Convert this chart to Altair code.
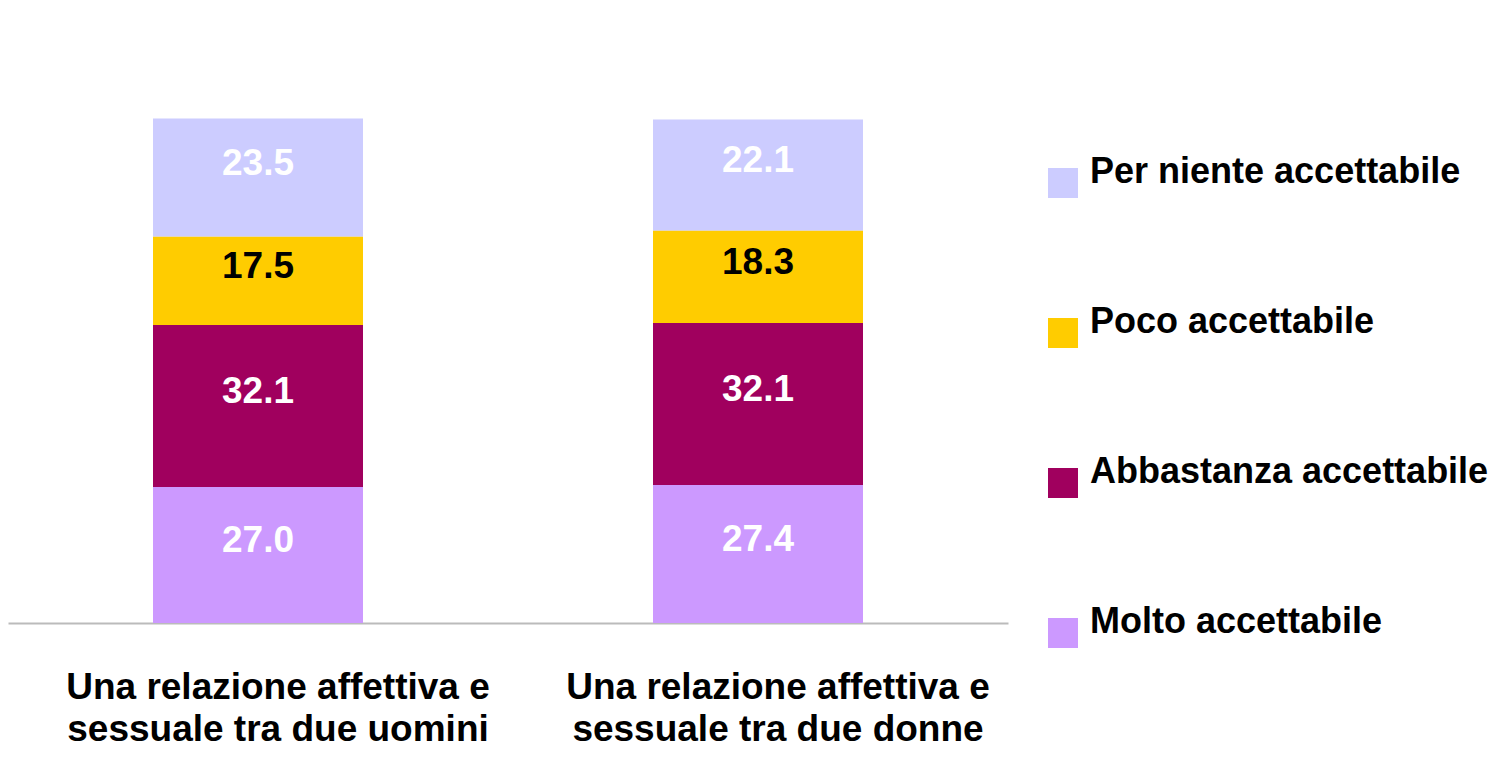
import altair as alt
import pandas as pd

categories = [
    "Una relazione affettiva e|sessuale tra due uomini",
    "Una relazione affettiva e|sessuale tra due donne",
]
series = ["Per niente accettabile", "Poco accettabile", "Abbastanza accettabile", "Molto accettabile"]
stack_order = [4, 3, 2, 1]
colors = ["#CCCCFF", "#FFCC00", "#A0005E", "#CC99FF"]
values_men = [23.5, 17.5, 32.1, 27.0]
values_women = [22.1, 18.3, 32.1, 27.4]

rows = []
for cat, vals in zip(categories, [values_men, values_women]):
    for s, o, v in zip(series, stack_order, vals):
        rows.append({"cat": cat, "serie": s, "ord": o, "value": v})
df = pd.DataFrame(rows)

FONT = "Liberation Sans"

x_enc = alt.X(
    "cat:N",
    sort=categories,
    scale=alt.Scale(paddingInner=0, paddingOuter=0),
    axis=alt.Axis(
        title=None,
        labelAngle=0,
        ticks=False,
        domainColor="#BBBBBB",
        domainWidth=2,
        labelFont=FONT,
        labelFontSize=37,
        labelFontWeight="bold",
        labelColor="black",
        labelPadding=46,
        labelLineHeight=42,
        labelOffset=20,
        labelExpr="split(datum.label, '|')",
        labelLimit=600,
    ),
)

base = alt.Chart(df).transform_stack(
    stack="value", groupby=["cat"], as_=["v0", "v1"], sort=[alt.SortField("ord", order="ascending")]
)

bars = base.mark_bar(size=210).encode(
    x=x_enc,
    y=alt.Y("v0:Q", scale=alt.Scale(domain=[0, 122], nice=False), axis=None),
    y2="v1:Q",
    color=alt.Color(
        "serie:N",
        scale=alt.Scale(domain=series, range=colors),
        legend=alt.Legend(
            title=None,
            orient="none",
            legendX=1037,
            legendY=157,
            symbolType="square",
            symbolSize=900,
            symbolStrokeWidth=0,
            labelFont=FONT,
            labelFontSize=36,
            labelFontWeight="bold",
            labelColor="black",
            labelBaseline="alphabetic",
            labelOffset=9,
            rowPadding=106,
            labelLimit=600,
        ),
    ),
)

labels = base.transform_calculate(mid="(datum.v0 + datum.v1) / 2").mark_text(
    font=FONT, fontSize=37, fontWeight="bold", baseline="middle", dy=-14
).encode(
    x=alt.X("cat:N", sort=categories),
    y=alt.Y("mid:Q"),
    text=alt.Text("value:Q", format=".1f"),
    color=alt.condition(
        alt.datum.serie == "Poco accettabile", alt.value("black"), alt.value("white")
    ),
)

chart = (
    alt.layer(bars, labels)
    .properties(
        width=1000,
        height=615,
        background="white",
        autosize=alt.AutoSizeParams(type="none"),
        padding={"left": 0, "top": 0, "right": 485, "bottom": 126},
    )
    .configure_view(stroke="transparent", strokeWidth=0)
)

chart.save("out.html", embed_options={"renderer": "svg", "actions": False})
